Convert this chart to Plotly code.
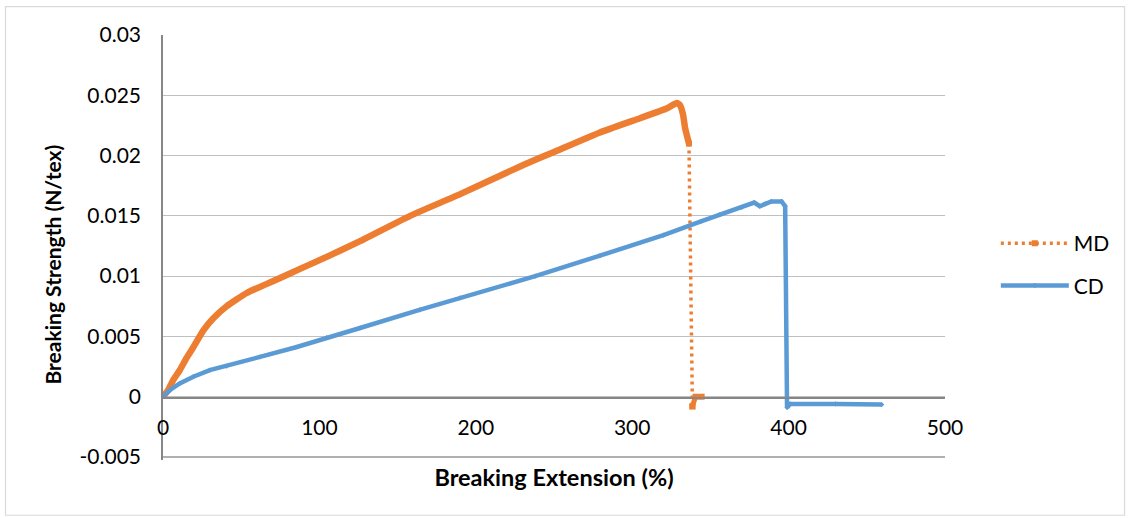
''' Breaking strength vs breaking extension (MD / CD) '''
import plotly.graph_objects as go

# MD series (machine direction)
md_ext = [0, 3, 6.6, 10.7, 15, 19.4, 25.8, 32.2, 40.7, 53.5, 70.6, 87.6, 104.7,
          126, 158, 190, 230, 250, 279, 305, 322, 328.5, 330.5, 332.5, 333.8, 336.3,
          338.5, 340.5, 344.4]
md_str = [0, 0.0005, 0.0014, 0.0022, 0.0032, 0.0041, 0.0055, 0.0065, 0.0075,
          0.0086, 0.0096, 0.0106, 0.0116, 0.0129, 0.0150, 0.0168, 0.0192, 0.0203,
          0.0219, 0.0231, 0.0239, 0.02435, 0.0242, 0.0234, 0.0223, 0.0210,
          -0.0008, 0, 0]

# CD series (cross direction)
cd_ext = [0, 5, 10.7, 19.4, 29.9, 40.7, 62, 85, 104.7, 126, 164, 190, 238, 279.4,
          320, 344, 356, 370, 378, 381.6, 385, 389, 395.5, 397.8, 399, 401, 430,
          459.5]
cd_str = [0, 0.0006, 0.0011, 0.00166, 0.0022, 0.00254, 0.0033, 0.0041, 0.0049,
          0.0057, 0.0072, 0.0082, 0.0100, 0.0117, 0.0134, 0.01455, 0.0151, 0.0157,
          0.0161, 0.0158, 0.0160, 0.0162, 0.0162, 0.0158, -0.0009, -0.0006, -0.0006,
          -0.00065]

y_tickvals = [-0.005, 0, 0.005, 0.01, 0.015, 0.02, 0.025, 0.03]
y_ticktext = ['-0.005', '0', '0.005', '0.01', '0.015', '0.02', '0.025', '0.03']
x_tickvals = [0, 100, 200, 300, 400, 500]

ORANGE = '#ED7D31'
BLUE = '#5B9BD5'
GRID = '#c0c0c0'
FONT = 'Lato'

# index where the MD curve breaks (last point before the fall)
brk = md_ext.index(336.3)

fig = go.Figure()

# dense part of MD: markers so close together they read as a solid band
fig.add_trace(
    go.Scatter(
        x=md_ext[:brk + 1],
        y=md_str[:brk + 1],
        mode='lines',
        line=dict(color=ORANGE, width=6.5, shape='spline', smoothing=0.4),
        legendgroup='md',
        showlegend=False,
        hoverinfo='skip'
    )
)

# the fall after break: dotted line with square markers
fig.add_trace(
    go.Scatter(
        x=md_ext[brk:brk + 2],
        y=md_str[brk:brk + 2],
        mode='lines+markers',
        line=dict(color=ORANGE, width=3.5, dash='3px,4px'),
        marker=dict(symbol='square', size=6, color=ORANGE),
        name='MD',
        legendgroup='md'
    )
)

fig.add_trace(
    go.Scatter(
        x=md_ext[brk + 1:],
        y=md_str[brk + 1:],
        mode='lines+markers',
        line=dict(color=ORANGE, width=5),
        marker=dict(symbol='square', size=6, color=ORANGE),
        legendgroup='md',
        showlegend=False
    )
)

fig.add_trace(
    go.Scatter(
        x=cd_ext,
        y=cd_str,
        mode='lines+markers',
        line=dict(color=BLUE, width=4.5),
        marker=dict(symbol='diamond', size=4, color=BLUE),
        name='CD',
        legendgroup='cd'
    )
)

fig.update_layout(
    width=1130,
    height=518,
    margin=dict(l=163, r=185, t=35, b=58),
    paper_bgcolor='white',
    plot_bgcolor='white',
    font=dict(family=FONT, size=21, color='#000000'),
    xaxis=dict(
        range=[0, 500],
        tickvals=x_tickvals,
        showgrid=False,
        zeroline=False,
        showline=True,
        linecolor='#868686',
        linewidth=1.5,
        anchor='free',
        position=0.147,
        ticks='',
        ticklabelstandoff=12,
        title=dict(text='<b>Breaking Extension (%)</b>', standoff=30,
                   font=dict(size=23.5))
    ),
    # range runs a little under -0.005 so its gridline sits inside the plot
    yaxis=dict(
        range=[-0.00525, 0.03],
        tickvals=y_tickvals,
        ticktext=y_ticktext,
        showgrid=True,
        gridcolor=GRID,
        gridwidth=1.2,
        zeroline=False,
        showline=True,
        linecolor='#868686',
        linewidth=1.5,
        ticks='',
        ticklabelstandoff=16
    ),
    annotations=[
        # y title sits a little below the plot centre in the original
        dict(
            text='<b>Breaking Strength (N/tex)</b>',
            textangle=-90,
            xref='paper', yref='paper',
            x=-0.1419, y=0.46,
            xanchor='center', yanchor='middle',
            showarrow=False,
            font=dict(family=FONT, size=21, color='#000000')
        )
    ],
    legend=dict(
        x=1.065,
        y=0.46,
        xanchor='left',
        yanchor='middle',
        itemwidth=68,
        traceorder='grouped',
        tracegroupgap=12,
        font=dict(family=FONT, size=21, color='#000000')
    ),
    shapes=[
        # bottom gridline (-0.005)
        dict(
            type='line',
            xref='x', yref='y',
            x0=x_tickvals[0], x1=x_tickvals[-1],
            y0=y_tickvals[0], y1=y_tickvals[0],
            line=dict(color='#b0b0b0', width=2),
            layer='above'
        ),
        dict(
            type='rect',
            xref='paper', yref='paper',
            x0=-0.2014, x1=1.2296, y0=-0.13, y1=1.067,
            line=dict(color='#d9d9d9', width=1.2),
            fillcolor='rgba(0,0,0,0)',
            layer='below'
        )
    ]
)

# page body has a default 8px margin; drop it so the figure sits at 0,0
fig.write_html('out.html', config={'displayModeBar': False},
               post_script="document.body.style.margin='0';")
